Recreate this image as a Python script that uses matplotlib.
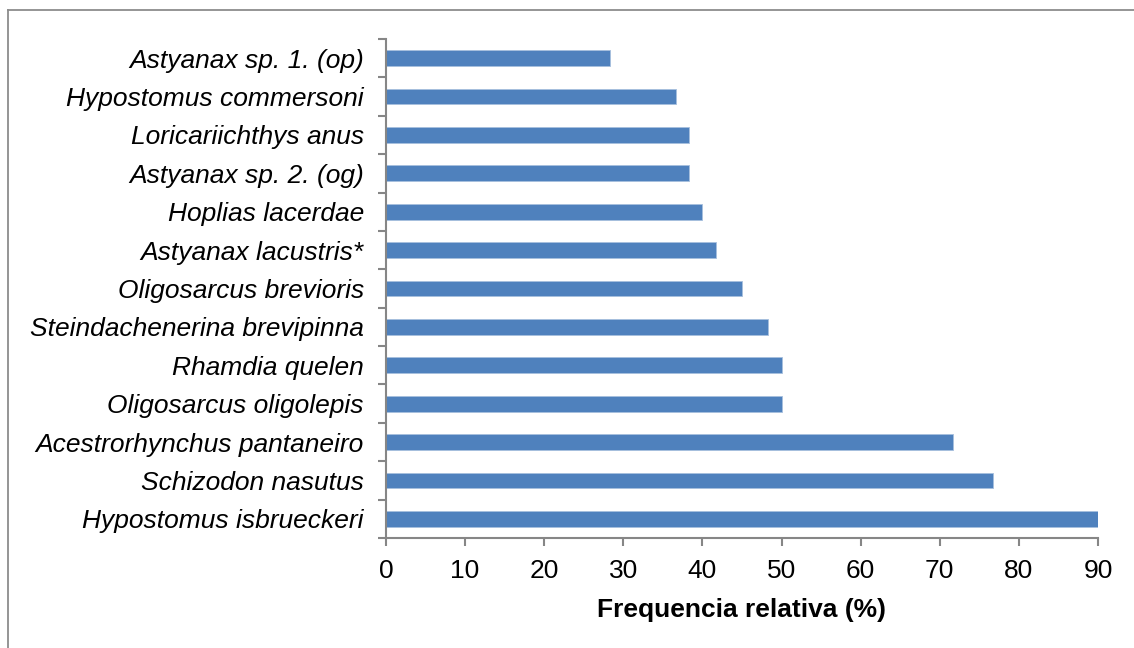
import matplotlib
matplotlib.use("Agg")
import matplotlib.pyplot as plt
from matplotlib.lines import Line2D
import numpy as np

species = [
    "Hypostomus isbrueckeri",
    "Schizodon nasutus",
    "Acestrorhynchus pantaneiro",
    "Oligosarcus oligolepis",
    "Rhamdia quelen",
    "Steindachenerina brevipinna",
    "Oligosarcus brevioris",
    "Astyanax lacustris*",
    "Hoplias lacerdae",
    "Astyanax sp. 2. (og)",
    "Loricariichthys anus",
    "Hypostomus commersoni",
    "Astyanax sp. 1. (op)",
]
freq = [90.0, 76.7, 71.7, 50.0, 50.0, 48.3, 45.0, 41.7, 40.0, 38.3, 38.3, 36.7, 28.3]
xticks = [0, 10, 20, 30, 40, 50, 60, 70, 80, 90]
xlabel = "Frequencia relativa (%)"

plt.rcParams['font.family'] = ['Liberation Sans', 'DejaVu Sans']

fig = plt.figure(figsize=(11.34, 6.48), dpi=100)
ax = fig.add_axes([386/1134, 1-538/648, (1098-386)/1134, (538-39)/648])

pos = np.arange(len(species))
ax.barh(pos, freq, height=0.41, color="#4F81BD", edgecolor="#A7BFDE", linewidth=0.6)

ax.set_xlim(0, 90)
ax.set_ylim(-0.5, len(species) - 0.5)
ax.set_xticks(xticks)
ax.set_xticklabels([str(t) for t in xticks], fontsize=19)
ax.set_yticks(pos)
ax.set_yticklabels(species, fontsize=19, style='italic')
ax.set_yticks(np.arange(-0.5, len(species), 1.0), minor=True)

gray = "#868686"
ax.tick_params(axis='y', which='major', length=0, pad=16)
ax.tick_params(axis='y', which='minor', length=5.8, width=1.5, color=gray, direction='out')
ax.tick_params(axis='x', which='major', length=5.8, width=1.5, color=gray, direction='out', pad=9)

for s in ['top', 'right']:
    ax.spines[s].set_visible(False)
for s in ['left', 'bottom']:
    ax.spines[s].set_color(gray)
    ax.spines[s].set_linewidth(1.5)

ax.set_xlabel(xlabel, fontsize=19, fontweight='bold', labelpad=11)

bx = 8/1134
by = 1 - 9.5/648
fig.add_artist(Line2D([bx, 1.0], [by, by], transform=fig.transFigure, color="#8C8C8C", linewidth=1.3))
fig.add_artist(Line2D([bx, bx], [0.0, by], transform=fig.transFigure, color="#8C8C8C", linewidth=1.3))

fig.savefig("out.png", dpi=100)
